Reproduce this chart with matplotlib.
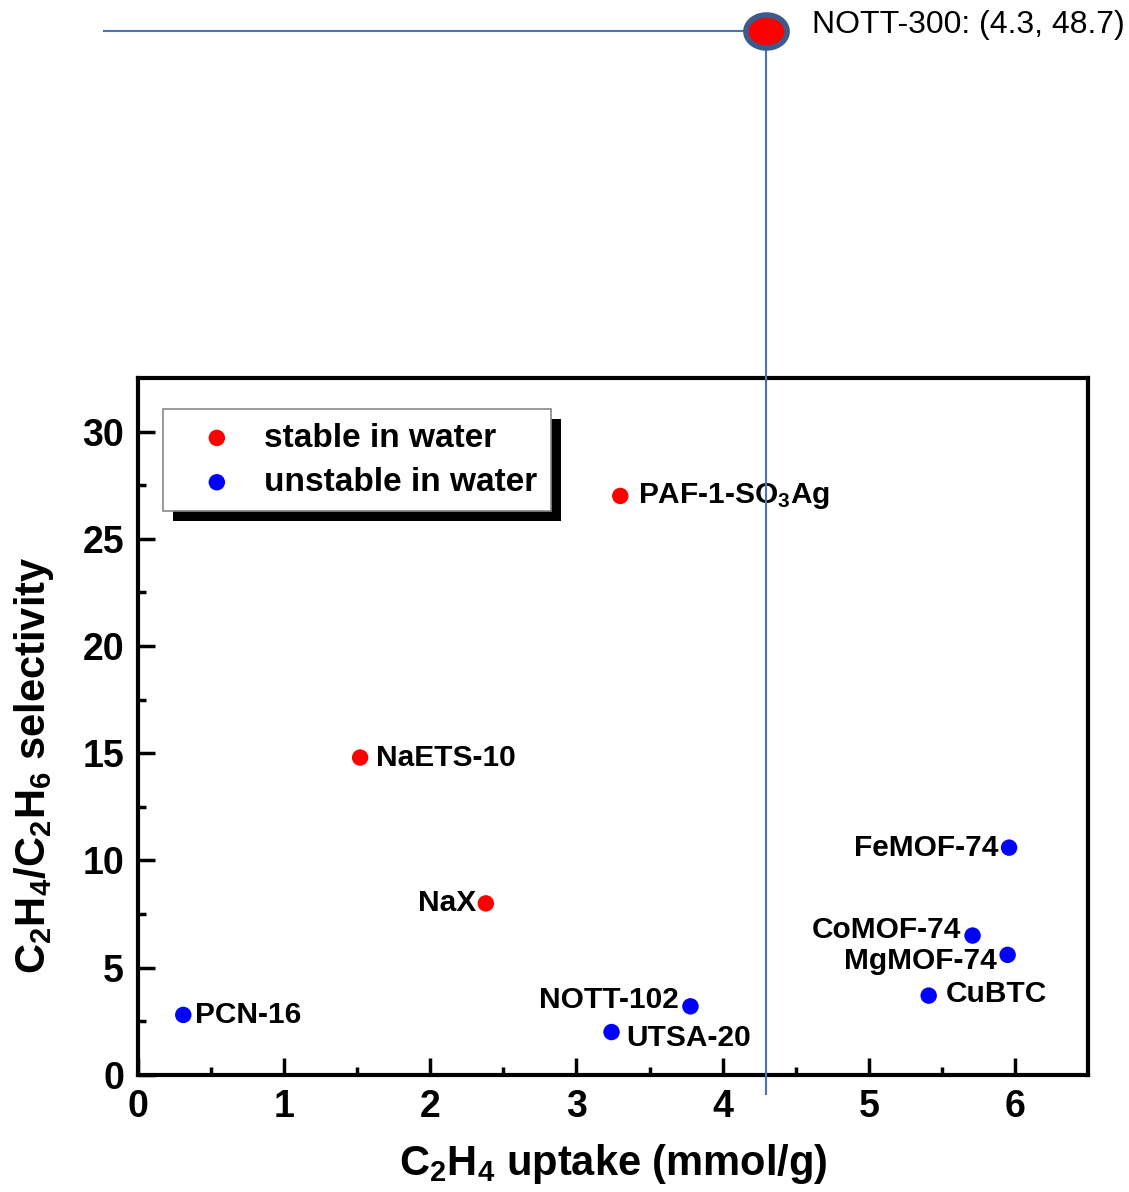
import matplotlib
matplotlib.use("Agg")
import matplotlib.pyplot as plt
from matplotlib.patches import Rectangle
from matplotlib.path import Path
import numpy as np

plt.rcParams.update({
    'font.family': ['Liberation Sans', 'DejaVu Sans'],
    'font.weight': 'bold',
    'mathtext.fontset': 'custom',
    'mathtext.rm': 'Liberation Sans:bold',
    'mathtext.bf': 'Liberation Sans:bold',
    'mathtext.it': 'Liberation Sans:bold',
    'mathtext.default': 'bf',
})

# ---- data ----
stable_names = ['PAF-1-SO$_3$Ag', 'NaETS-10', 'NaX']
stable_x = [3.30, 1.52, 2.38]
stable_y = [27.0, 14.8, 8.0]

unstable_names = ['PCN-16', 'NOTT-102', 'UTSA-20', 'FeMOF-74',
                  'CoMOF-74', 'MgMOF-74', 'CuBTC']
unstable_x = [0.31, 3.78, 3.24, 5.96, 5.71, 5.95, 5.41]
unstable_y = [2.8, 3.2, 2.0, 10.6, 6.5, 5.6, 3.7]

nott300_x, nott300_y = 4.3, 48.7

# label offsets (pixels) and alignment
stable_offs = [(18, 0, 'left'), (16, 0, 'left'), (-10, 0, 'right')]
unstable_offs = [(12, 0, 'left'), (-12, 6, 'right'), (15, -6, 'left'),
                 (-11, 0, 'right'), (-11, 6, 'right'), (-11, -6, 'right'),
                 (17, 2, 'left')]

fig = plt.figure(figsize=(11.29, 11.92), dpi=100)
ax = fig.add_axes([0.1222, 0.0982, 0.8415, 0.5847])

ax.scatter(stable_x, stable_y, s=140, color='#ff0000', zorder=3,
           label='stable in water', edgecolors='none')
ax.scatter(unstable_x, unstable_y, s=140, color='#0000ff', zorder=3,
           label='unstable in water', edgecolors='none')

for n, x, y, (dx, dy, ha) in zip(stable_names, stable_x, stable_y, stable_offs):
    ax.annotate(n, (x, y), xytext=(dx, dy), textcoords='offset pixels',
                ha=ha, va='center', fontsize=21.5, fontweight='bold')
for n, x, y, (dx, dy, ha) in zip(unstable_names, unstable_x, unstable_y, unstable_offs):
    ax.annotate(n, (x, y), xytext=(dx, dy), textcoords='offset pixels',
                ha=ha, va='center', fontsize=21.5, fontweight='bold')

ax.set_xlim(0, 6.5)
ax.set_ylim(0, 32.5)
ax.set_xticks(range(0, 7))
ax.set_yticks(range(0, 31, 5))
ax.set_xticks([0.5 + i for i in range(6)], minor=True)
ax.set_yticks([2.5 + 5 * i for i in range(6)], minor=True)
ax.tick_params(which='both', direction='in', width=2.5, labelsize=27, pad=10)
ax.tick_params(which='major', length=12)
ax.tick_params(which='minor', length=6)
for sp in ax.spines.values():
    sp.set_linewidth(3)

ax.set_xlabel('C$_2$H$_4$ uptake (mmol/g)', fontsize=30, fontweight='bold', labelpad=12)
ax.set_ylabel('C$_2$H$_4$/C$_2$H$_6$ selectivity', fontsize=30, fontweight='bold')
ax.yaxis.set_label_coords(-0.086, 0.445)

leg = ax.legend(loc='upper left', bbox_to_anchor=(0.026, 0.955), fontsize=24,
                frameon=True, fancybox=False, edgecolor='#888888', framealpha=1,
                handletextpad=0.2, borderpad=0.4, labelspacing=0.4,
                handlelength=2.45, borderaxespad=0)
leg.get_frame().set_linewidth(1.2)
leg.set_zorder(5)

fig.canvas.draw()
bb = leg.get_window_extent()
shadow = Rectangle((bb.x0 + 10, bb.y0 - 10), bb.width, bb.height,
                   transform=None, facecolor='black', edgecolor='none', zorder=4)
ax.add_artist(shadow)

# NOTT-300 callout
line_col = '#4a72b8'
ax.plot([-0.23, nott300_x], [nott300_y, nott300_y], color=line_col, lw=1.5,
        clip_on=False, zorder=6)
ax.plot([nott300_x, nott300_x], [nott300_y, -0.9], color=line_col, lw=1.5,
        clip_on=False, zorder=6)
t = np.linspace(0, 2 * np.pi, 60)
ell = Path(np.column_stack([np.cos(t), 0.8 * np.sin(t)]), closed=True)
ax.scatter([nott300_x], [nott300_y], s=880, marker=ell, color='#ff0000',
           edgecolors='#3d5a8a', linewidths=4, clip_on=False, zorder=7)
ax.annotate('NOTT-300: (4.3, 48.7)', (nott300_x, nott300_y), xytext=(46, 6),
            textcoords='offset pixels', ha='left', va='center', fontsize=23,
            fontweight='normal', annotation_clip=False)

fig.savefig('out.png', dpi=100)
